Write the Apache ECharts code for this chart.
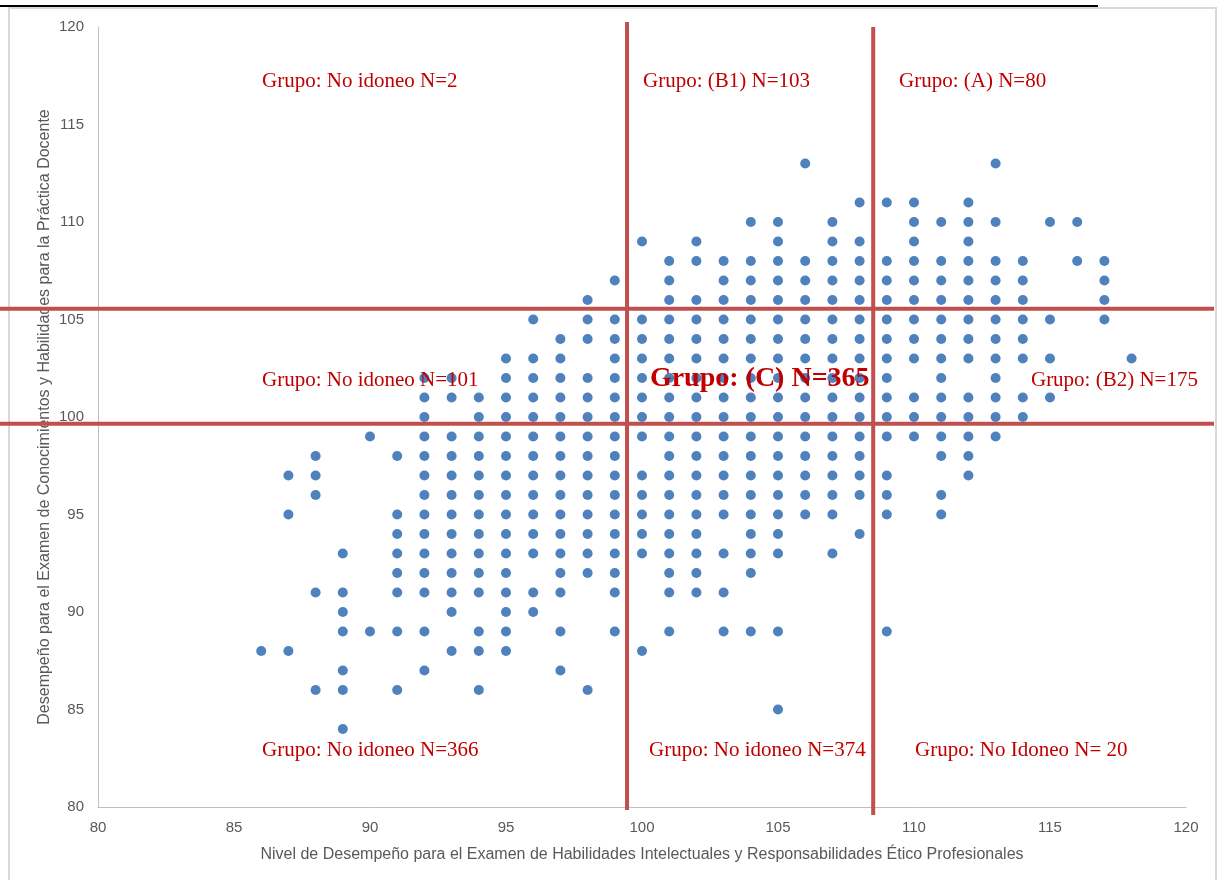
<!DOCTYPE html>
<html lang="es">
<head>
<meta charset="UTF-8">
<title>Grupos de desempeño</title>
<style>
  html, body { margin: 0; padding: 0; background: #fff; }
  #chart { width: 1220px; height: 880px; }
</style>
</head>
<body>
<div id="chart"></div>
<script src="https://cdn.jsdelivr.net/npm/echarts@6/dist/echarts.min.js"></script>
<script>
  // puntajes EXHCOBA (x) y puntajes de conocimientos (y), una lista de y por cada x
  var colX = [86, 87, 88, 89, 90, 91, 92, 93, 94, 95, 96, 97, 98, 99, 100, 101, 102,
              103, 104, 105, 106, 107, 108, 109, 110, 111, 112, 113, 114, 115, 116, 117, 118];
  var colY = [
    [88],
    [97, 95, 88],
    [98, 97, 96, 91, 86],
    [93, 91, 90, 89, 87, 86, 84],
    [99, 89],
    [98, 95, 94, 93, 92, 91, 89, 86],
    [102, 101, 100, 99, 98, 97, 96, 95, 94, 93, 92, 91, 89, 87],
    [102, 101, 99, 98, 97, 96, 95, 94, 93, 92, 91, 90, 88],
    [101, 100, 99, 98, 97, 96, 95, 94, 93, 92, 91, 89, 88, 86],
    [103, 102, 101, 100, 99, 98, 97, 96, 95, 94, 93, 92, 91, 90, 89, 88],
    [105, 103, 102, 101, 100, 99, 98, 97, 96, 95, 94, 93, 91, 90],
    [104, 103, 102, 101, 100, 99, 98, 97, 96, 95, 94, 93, 92, 91, 89, 87],
    [106, 105, 104, 102, 101, 100, 99, 98, 97, 96, 95, 94, 93, 92, 86],
    [107, 105, 104, 103, 102, 101, 100, 99, 98, 97, 96, 95, 94, 93, 92, 91, 89],
    [109, 105, 104, 103, 102, 101, 100, 99, 97, 96, 95, 94, 93, 88],
    [108, 107, 106, 105, 104, 103, 102, 101, 100, 99, 98, 97, 96, 95, 94, 93, 92, 91, 89],
    [109, 108, 106, 105, 104, 103, 102, 101, 100, 99, 98, 97, 96, 95, 94, 93, 92, 91],
    [108, 107, 106, 105, 104, 103, 102, 101, 100, 99, 98, 97, 96, 95, 93, 91, 89],
    [110, 108, 107, 106, 105, 104, 103, 102, 101, 100, 99, 98, 97, 96, 95, 94, 93, 92, 89],
    [110, 109, 108, 107, 106, 105, 104, 103, 102, 101, 100, 99, 98, 97, 96, 95, 94, 93, 89, 85],
    [113, 108, 107, 106, 105, 104, 103, 102, 101, 100, 99, 98, 97, 96, 95],
    [110, 109, 108, 107, 106, 105, 104, 103, 102, 101, 100, 99, 98, 97, 96, 95, 93],
    [111, 109, 108, 107, 106, 105, 104, 103, 102, 101, 100, 99, 98, 97, 96, 94],
    [111, 108, 107, 106, 105, 104, 103, 102, 101, 100, 99, 97, 96, 95, 89],
    [111, 110, 109, 108, 107, 106, 105, 104, 103, 101, 100, 99],
    [110, 108, 107, 106, 105, 104, 103, 102, 101, 100, 99, 98, 96, 95],
    [111, 110, 109, 108, 107, 106, 105, 104, 103, 101, 100, 99, 98, 97],
    [113, 110, 108, 107, 106, 105, 104, 103, 102, 101, 100, 99],
    [108, 107, 106, 105, 104, 103, 101, 100],
    [110, 105, 103, 101],
    [110, 108],
    [108, 107, 106, 105],
    [103]
  ];

  // cortes de los grupos
  var cutX = [99.45, 108.5];
  var cutY = [105.55, 99.65];

  var groupNames = [
    'Grupo: No idoneo N=2', 'Grupo: (B1) N=103', 'Grupo: (A) N=80',
    'Grupo: No idoneo N=101', 'Grupo: (C) N=365', 'Grupo: (B2) N=175',
    'Grupo: No idoneo N=366', 'Grupo: No idoneo N=374', 'Grupo: No Idoneo N= 20'
  ];
  var xTicks = [80, 85, 90, 95, 100, 105, 110, 115, 120];

  var points = [];
  colX.forEach(function (x, i) {
    colY[i].forEach(function (y) { points.push([x, y]); });
  });

  var chart = echarts.init(document.getElementById('chart'));
  var axisText = { color: '#595959', fontSize: 15, fontFamily: 'Liberation Sans' };
  var nameText = { color: '#595959', fontSize: 16, fontFamily: 'Liberation Sans' };

  chart.setOption({
    backgroundColor: '#fff',
    animation: false,
    grid: { left: 98, right: 34, top: 27, bottom: 73 },
    xAxis: {
      type: 'value', min: xTicks[0], max: xTicks[xTicks.length - 1], interval: 5,
      name: 'Nivel de Desempeño para el Examen de Habilidades Intelectuales y Responsabilidades Ético Profesionales',
      nameLocation: 'middle', nameGap: 40, nameMoveOverlap: false,
      nameTextStyle: nameText,
      axisLine: { lineStyle: { color: '#bfbfbf', width: 1 } },
      axisTick: { show: false },
      axisLabel: Object.assign({ margin: 13 }, axisText),
      splitLine: { show: false }
    },
    yAxis: {
      type: 'value', min: 80, max: 120, interval: 5,
      name: 'Desempeño para el Examen de Conocimientos y Habilidades para la Práctica Docente',
      nameLocation: 'middle', nameGap: 45, nameMoveOverlap: false,
      nameTextStyle: nameText,
      axisLine: { show: true, lineStyle: { color: '#bfbfbf', width: 1 } },
      axisTick: { show: false },
      axisLabel: Object.assign({ margin: 14 }, axisText),
      splitLine: { show: false }
    },
    series: [{
      type: 'scatter',
      symbolSize: 10,
      itemStyle: { color: '#4f81bd', opacity: 1 },
      data: points
    }]
  });

  // líneas de corte, rótulos y marco
  function px(x, y) { return chart.convertToPixel({ gridIndex: 0 }, [x, y]); }
  var red = '#c0504d';
  var g = [];
  g.push({ type: 'rect', z: 1, shape: { x: 9, y: 8, width: 1207, height: 880 },
           style: { fill: null, stroke: '#d9d9d9', lineWidth: 2 } });
  g.push({ type: 'line', z: 1, shape: { x1: 0, y1: 6, x2: 1098, y2: 6 },
           style: { stroke: '#000', lineWidth: 2 } });
  cutY.forEach(function (v) {
    var p = px(80, v);
    g.push({ type: 'line', z: 50, shape: { x1: 0, y1: p[1], x2: 1214, y2: p[1] },
             style: { stroke: red, lineWidth: 4 } });
  });
  var vx0 = px(cutX[0], 120), vx1 = px(cutX[1], 120);
  g.push({ type: 'line', z: 50, shape: { x1: vx0[0], y1: vx0[1] - 5, x2: vx0[0], y2: vx0[1] + 783 },
           style: { stroke: red, lineWidth: 4 } });
  g.push({ type: 'line', z: 50, shape: { x1: vx1[0], y1: vx1[1], x2: vx1[0], y2: vx1[1] + 788 },
           style: { stroke: red, lineWidth: 4 } });

  var anchors = [
    [86.03, 117.2], [100.04, 117.2], [109.45, 117.2],
    [86.03, 101.85], [100.29, 101.95], [114.3, 101.85],
    [86.03, 82.92], [100.26, 82.92], [110.04, 82.92]
  ];
  groupNames.forEach(function (t, i) {
    var p = px(anchors[i][0], anchors[i][1]);
    var bold = i === 4;
    g.push({ type: 'text', z: 60, x: p[0], y: p[1],
             style: { text: t, fill: '#c00000', align: 'left', verticalAlign: 'middle',
                      font: (bold ? 'bold 28px' : '21px') + ' "Liberation Serif"' } });
  });
  chart.setOption({ graphic: g });
</script>
</body>
</html>
